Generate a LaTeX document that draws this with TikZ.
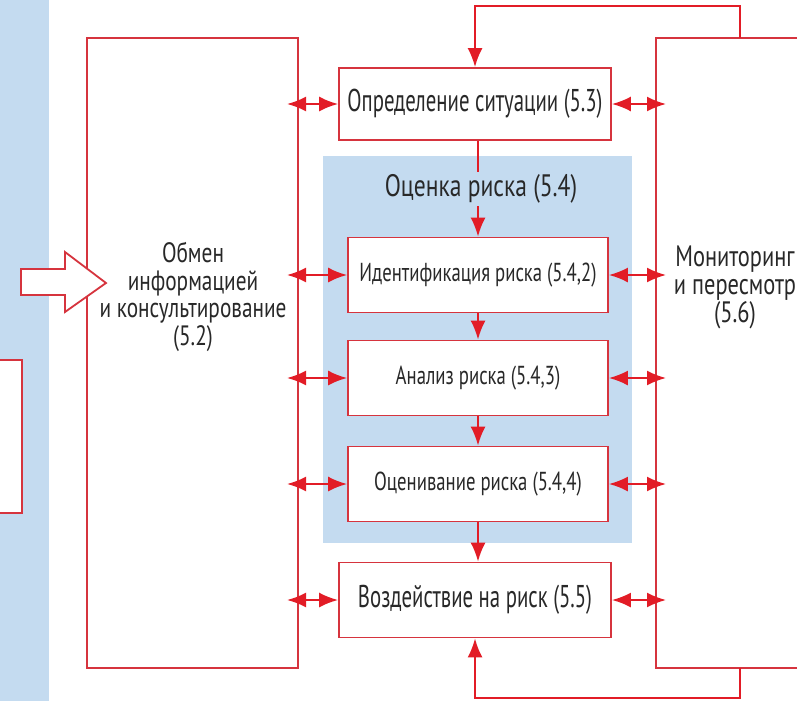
\documentclass[tikz,border=0pt]{standalone}
\usepackage{fontspec}
\setmainfont[FakeStretch=0.72]{PT Sans}
\newfontfamily\boxfont[FakeStretch=0.66]{PT Sans}
\newfontfamily\widefont[FakeStretch=0.76]{PT Sans}
\usetikzlibrary{arrows.meta}
\definecolor{boxred}{RGB}{214,52,62}
\definecolor{arrred}{RGB}{226,28,38}
\definecolor{paleblue}{RGB}{196,219,240}
\definecolor{txtgray}{RGB}{40,40,40}
\begin{document}
\begin{tikzpicture}[x=1pt,y=-1pt,
  stage/.style={draw=boxred,line width=1.8pt,fill=white,text=txtgray,inner sep=0pt},
  mainbox/.style={stage,minimum width=272pt,minimum height=72pt,font=\boxfont\fontsize{31.5}{36}\selectfont},
  subbox/.style={stage,minimum width=260pt,minimum height=75pt,font=\fontsize{26}{30}\selectfont},
  frame/.style={draw=boxred,line width=1.8pt},
  link/.style={draw=arrred,line width=2pt,-{Latex[length=19pt,width=15pt]}},
  dbl/.style={draw=arrred,line width=2pt,{Latex[length=19pt,width=15pt]}-{Latex[length=19pt,width=15pt]}},
  sidetext/.style={text=txtgray,align=center,font=\widefont\fontsize{28}{27.5}\selectfont}]
\useasboundingbox (0,0) rectangle (797,701);
\clip (0,0) rectangle (797,701);
\fill[white] (0,0) rectangle (797,701);
\fill[paleblue] (0,0) rectangle (49,701);
\draw[frame,fill=white] (-10,360) rectangle (22,513);
\draw[frame] (87,38) rectangle (298,668);
\draw[frame] (656,38) rectangle (830,668);
\fill[paleblue] (323,156) rectangle (632,543);
\node[sidetext] (obmen) at (193,297) {Обмен\\информацией\\и консультирование\\(5.2)};
\node[sidetext,font=\widefont\fontsize{29.5}{28}\selectfont] (monitoring) at (735,287) {Мониторинг\\и пересмотр\\(5.6)};
\node[mainbox] (kontekst) at (475,104) {Определение ситуации (5.3)};
\node[subbox] (ident) at (478,275) {Идентификация риска (5.4,2)};
\node[subbox] (analiz) at (478,378) {Анализ риска (5.4,3)};
\node[subbox] (ocenivanie) at (478,484) {Оценивание риска (5.4,4)};
\node[mainbox,minimum height=75pt] (vozd) at (475,600) {Воздействие на риск (5.5)};
\coordinate (L) at (287,0);
\coordinate (R) at (666,0);
\coordinate (topturn) at (740,6);
\coordinate (botturn) at (740,698);
\draw[link] (kontekst.south -| ident.north) -- (ident.north);
\node[fill=paleblue,text=txtgray,inner sep=3pt,font=\widefont\fontsize{31}{36}\selectfont] (ocenka) at (481,189) {Оценка риска (5.4)};
\draw[link] (ident) -- (analiz);
\draw[link] (analiz) -- (ocenivanie);
\draw[link] (ocenivanie.south) -- (ocenivanie.south |- vozd.north);
\foreach \n in {kontekst,ident,analiz,ocenivanie,vozd}{
  \draw[dbl] (\n.west -| L) -- (\n.west);
  \draw[dbl] (\n.east) -- (\n.east -| R);
}
\draw[link] (740,38) -- (topturn) -- (topturn -| kontekst.north) -- (kontekst.north);
\draw[link] (740,668) -- (botturn) -- (botturn -| vozd.south) -- (vozd.south);
\draw[draw=boxred,line width=1.8pt,fill=white] (21,269) -- (65,269) -- (65,252) -- (106,283) -- (65,312) -- (65,295) -- (21,295) -- cycle;
\end{tikzpicture}
\end{document}
